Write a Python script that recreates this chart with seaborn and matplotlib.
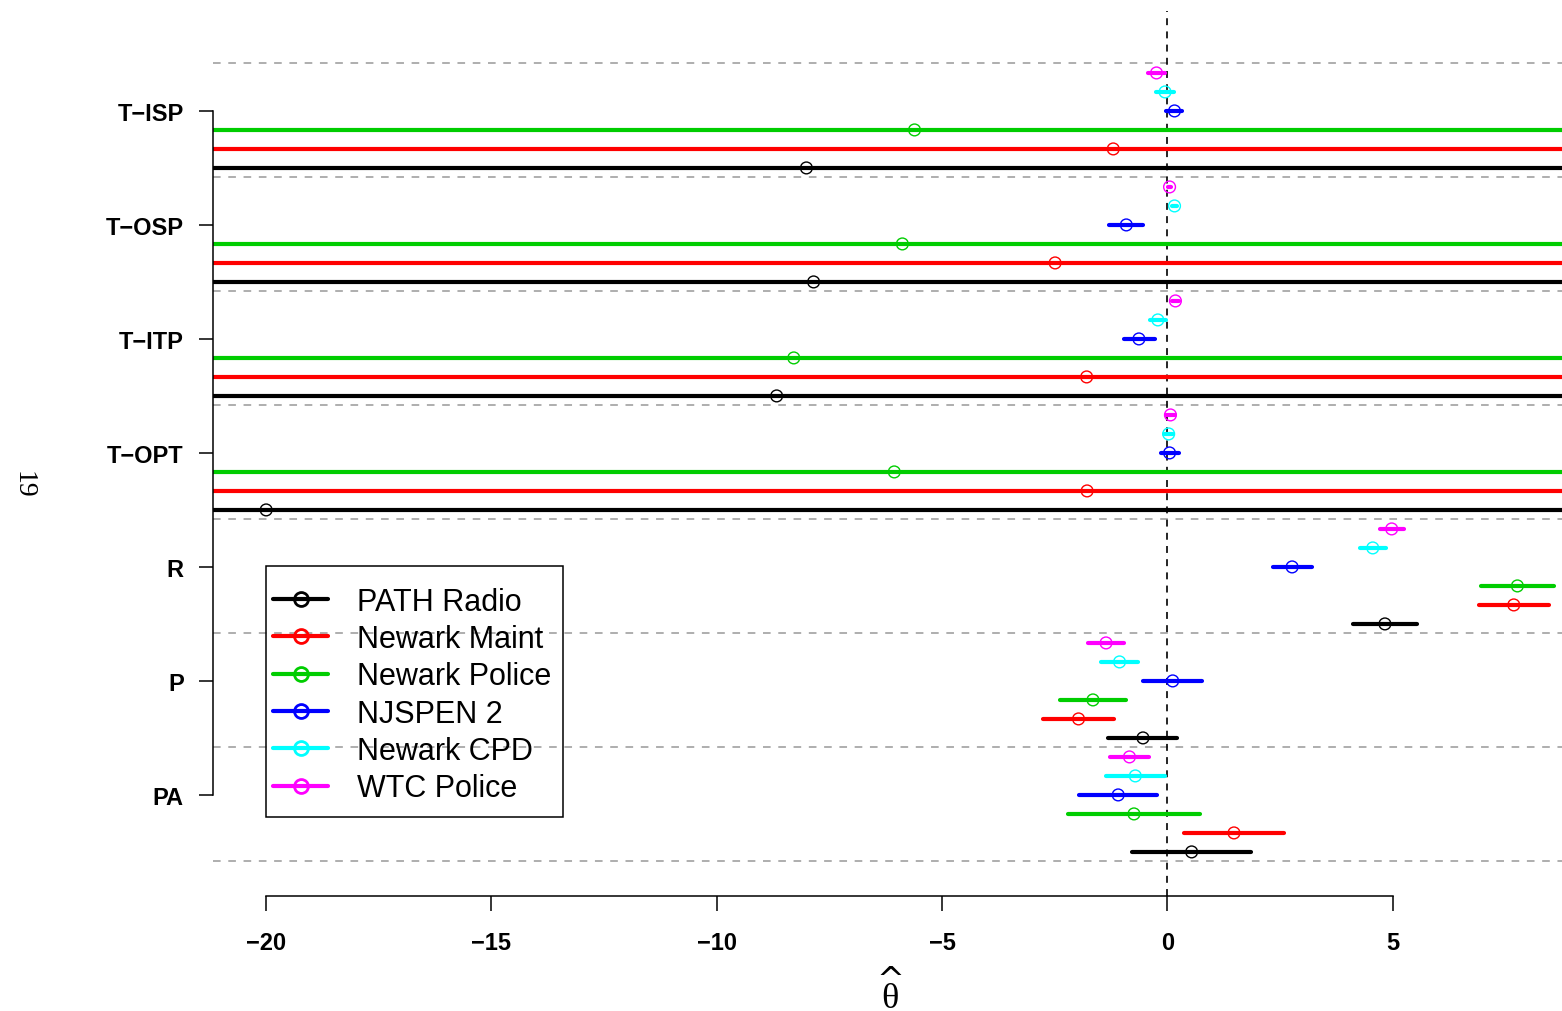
import numpy as np
import pandas as pd
import matplotlib
matplotlib.use('Agg')
import matplotlib.pyplot as plt
from matplotlib.lines import Line2D
from matplotlib.patches import Rectangle
import seaborn as sns

# groups on the y axis (top to bottom)
groups = ['T\u2212ISP', 'T\u2212OSP', 'T\u2212ITP', 'T\u2212OPT', 'R', 'P', 'PA']

# series, in drawing order inside each group (top to bottom)
series = ['WTC Police', 'Newark CPD', 'NJSPEN 2', 'Newark Police', 'Newark Maint', 'PATH Radio']
legend_order = ['PATH Radio', 'Newark Maint', 'Newark Police', 'NJSPEN 2', 'Newark CPD', 'WTC Police']
colors = {
    'PATH Radio': '#000000',
    'Newark Maint': '#FF0000',
    'Newark Police': '#00CD00',
    'NJSPEN 2': '#0000FF',
    'Newark CPD': '#00FFFF',
    'WTC Police': '#FF00FF',
}

inf = np.inf

# estimates and interval bounds per group (inf = unbounded interval)
path_est = [-8.01, -7.85, -8.67, -20.0, 4.83, -0.54, 0.54]
path_lo = [-inf, -inf, -inf, -inf, 4.13, -1.31, -0.78]
path_hi = [inf, inf, inf, inf, 5.55, 0.22, 1.85]

maint_est = [-1.20, -2.49, -1.79, -1.78, 7.69, -1.97, 1.48]
maint_lo = [-inf, -inf, -inf, -inf, 6.92, -2.75, 0.38]
maint_hi = [inf, inf, inf, inf, 8.47, -1.19, 2.59]

police_est = [-5.61, -5.88, -8.29, -6.06, 7.77, -1.65, -0.74]
police_lo = [-inf, -inf, -inf, -inf, 6.96, -2.39, -2.21]
police_hi = [inf, inf, inf, inf, 8.58, -0.91, 0.73]

njspen_est = [0.16, -0.91, -0.63, 0.05, 2.77, 0.12, -1.09]
njspen_lo = [-0.02, -1.30, -0.96, -0.15, 2.34, -0.53, -1.96]
njspen_hi = [0.33, -0.53, -0.28, 0.27, 3.21, 0.78, -0.23]

cpd_est = [-0.05, 0.16, -0.21, 0.03, 4.56, -1.06, -0.71]
cpd_lo = [-0.26, 0.11, -0.38, -0.07, 4.28, -1.47, -1.35]
cpd_hi = [0.15, 0.21, -0.02, 0.13, 4.85, -0.64, -0.05]

wtc_est = [-0.24, 0.05, 0.18, 0.07, 4.98, -1.36, -0.84]
wtc_lo = [-0.42, 0.02, 0.10, -0.03, 4.72, -1.76, -1.28]
wtc_hi = [-0.05, 0.08, 0.26, 0.17, 5.25, -0.95, -0.40]

XLIM = (-21.18, 8.76)

values = {
    'WTC Police': (wtc_est, wtc_lo, wtc_hi),
    'Newark CPD': (cpd_est, cpd_lo, cpd_hi),
    'NJSPEN 2': (njspen_est, njspen_lo, njspen_hi),
    'Newark Police': (police_est, police_lo, police_hi),
    'Newark Maint': (maint_est, maint_lo, maint_hi),
    'PATH Radio': (path_est, path_lo, path_hi),
}

# long tables for seaborn
rows, seg_rows = [], []
for j, s in enumerate(series):
    est, lo, hi = values[s]
    for i, g in enumerate(groups):
        pos = i * 6 + (j - 2)
        rows.append({'series': s, 'group': g, 'pos': pos, 'est': est[i]})
        uid = f'{s}-{g}'
        seg_rows.append({'series': s, 'unit': uid, 'pos': pos, 'x': max(lo[i], XLIM[0] - 1)})
        seg_rows.append({'series': s, 'unit': uid, 'pos': pos, 'x': min(hi[i], XLIM[1] + 1)})
df = pd.DataFrame(rows)
segs = pd.DataFrame(seg_rows)

sns.set_theme(style='white')
plt.rcParams['font.family'] = ['Liberation Sans', 'DejaVu Sans']
plt.rcParams['lines.scale_dashes'] = False
for key in ['text.color', 'axes.labelcolor', 'xtick.color', 'ytick.color']:
    plt.rcParams[key] = 'black'

W, H = 1562, 1012
fig = plt.figure(figsize=(W / 100, H / 100), dpi=100)
ax = fig.add_axes([213 / W, 115 / H, 1349 / W, 885 / H])

# separators between groups
for k in range(len(groups) + 1):
    ax.axhline(k * 6 - 2.5, color='#999999', lw=1.1, ls=(0, (5.5, 5.5)), zorder=1)
ax.axvline(0, color='black', lw=1.2, ls=(0, (5, 4.5)), zorder=1)

# intervals
sns.lineplot(data=segs, x='x', y='pos', hue='series', units='unit', estimator=None,
             palette=colors, linewidth=3, legend=False, sort=True, ax=ax,
             solid_capstyle='round', zorder=2)

# point estimates (open circles)
sns.scatterplot(data=df, x='est', y='pos', hue='series', palette=colors, s=72,
                marker='o', linewidth=1.0, legend=False, ax=ax, zorder=3)
pts = ax.collections[-1]
fc = pts.get_facecolors()
pts.set_edgecolors(fc)
pts.set_facecolors('none')

ax.set_xlim(*XLIM)
ax.set_ylim(41.32, -5.26)

ax.set_xticks([-20, -15, -10, -5, 0, 5])
ax.set_xticklabels(['\u221220', '\u221215', '\u221210', '\u22125', '0', '5'],
                   fontweight='bold', fontsize=17, color='black')
ax.set_yticks([i * 6 for i in range(len(groups))])
ax.set_yticklabels(groups, fontweight='bold', fontsize=17, color='black')
ax.tick_params(axis='x', length=11, width=1.1, pad=14, color='black', bottom=True)
ax.tick_params(axis='y', length=10, width=1.1, pad=11, color='black', left=True)
ax.set_xlabel('')
ax.set_ylabel('')

for side in ['top', 'right']:
    ax.spines[side].set_visible(False)
for side in ['left', 'bottom']:
    ax.spines[side].set_color('black')
    ax.spines[side].set_linewidth(1.1)
ax.spines['left'].set_bounds(0, 36)
ax.spines['bottom'].set_bounds(-20, 5)

# legend: frameless legend inside a plain R-style box
handles = [Line2D([], [], color=colors[s], lw=3, marker='o', mfc='none',
                  mec=colors[s], ms=10, mew=2) for s in legend_order]
leg = ax.legend(handles, legend_order, loc='center left',
                bbox_to_anchor=(273 / W, 1 - 696 / H), bbox_transform=fig.transFigure,
                borderaxespad=0, borderpad=0, fontsize=22, frameon=False,
                handlelength=1.8, handletextpad=0.95, labelspacing=0.24)
fig.patches.append(Rectangle((266 / W, 1 - 818 / H), 297 / W, 251 / H,
                             transform=fig.transFigure, fill=False,
                             edgecolor='black', linewidth=1.1, zorder=5))

# x label: theta hat, drawn as two glyphs like the original
fig.text(890 / W, 4 / H, '\u03b8', family=['Liberation Serif', 'DejaVu Serif'],
         fontsize=26, ha='center', va='baseline')
fig.text(890 / W, 21 / H, '^', family=['DejaVu Sans'],
         fontsize=24, ha='center', va='baseline')

# page number
fig.text(23 / W, 1 - 485 / H, '19', family=['Liberation Serif', 'DejaVu Serif'],
         fontsize=20, rotation=-90, ha='center', va='center')

fig.savefig('out.png', dpi=100)
